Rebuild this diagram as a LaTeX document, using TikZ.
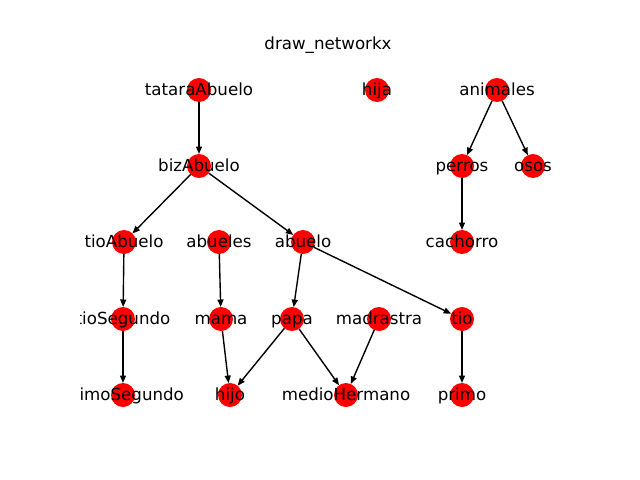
\documentclass[tikz,border=0pt]{standalone}
\usepackage{fontspec}
\setmainfont{DejaVu Sans}
\usetikzlibrary{arrows.meta}

\begin{document}
\begin{tikzpicture}[x=0.72pt,y=-0.72pt,>={Triangle[length=5.4pt,width=4.3pt]},
        persona/.style={circle,fill=red,minimum size=17.28pt,inner sep=0pt,outer sep=0pt},
        etiqueta/.style={font=\fontsize{12}{14}\selectfont,inner sep=0pt,text height=9pt,text depth=1.8pt}]
  \useasboundingbox (0,0) rectangle (640,480);
  \node[etiqueta,anchor=base] (titulo) at (328,49.3) {draw\_networkx};

  % nodos
  \foreach \nombre/\x/\y in {tataraAbuelo/199/90, hija/377/90, animales/497/90,
      bizAbuelo/199/166, perros/462/166, osos/533/166,
      tioAbuelo/124/242, abueles/219/242, abuelo/303/242, cachorro/462/242,
      tioSegundo/123/319, mama/221/319, papa/292/319, madrastra/379/319, tio/462/319,
      primoSegundo/123/395, hijo/230/395, medioHermano/346/395, primo/462/395}
    \node[persona] (\nombre) at (\x,\y) {};

  % aristas
  \path[->,line width=1pt] (tataraAbuelo) edge (bizAbuelo)
    (bizAbuelo) edge (tioAbuelo)
    (bizAbuelo) edge (abuelo)
    (tioAbuelo) edge (tioSegundo)
    (tioSegundo) edge (primoSegundo)
    (abueles) edge (mama)
    (mama) edge (hijo)
    (abuelo) edge (papa)
    (abuelo) edge (tio)
    (papa) edge (hijo)
    (papa) edge (medioHermano)
    (madrastra) edge (medioHermano)
    (tio) edge (primo)
    (animales) edge (perros)
    (animales) edge (osos)
    (perros) edge (cachorro);

  % etiquetas, recortadas al marco de los ejes
  \begin{scope}
    \clip (80,57.6) rectangle (576,427.2);
    \foreach \nombre in {tataraAbuelo, hija, animales, bizAbuelo, perros, osos,
        tioAbuelo, abueles, abuelo, cachorro, tioSegundo, mama, papa, madrastra,
        tio, primoSegundo, hijo, medioHermano, primo}
      \node[etiqueta] (\nombre-t) at (\nombre) {\nombre};
  \end{scope}
\end{tikzpicture}
\end{document}
